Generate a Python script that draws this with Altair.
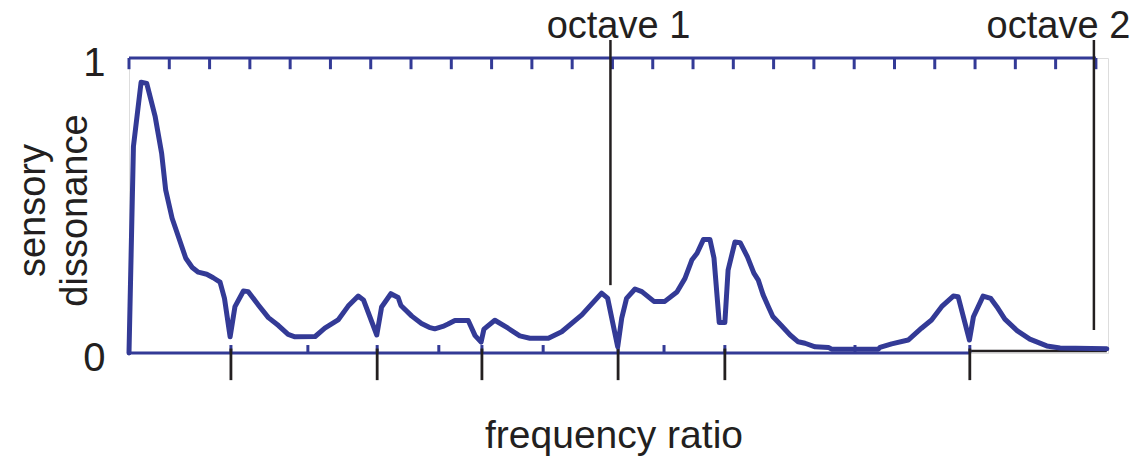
import altair as alt
import pandas as pd

BLUE = "#333A96"
BLACK = "#231F20"
FONT = "Liberation Sans"

# dissonance curve: x in semitones above the fundamental, y = normalised sensory dissonance
curve_x = [0.00, 0.11, 0.30, 0.44, 0.65, 0.81, 0.91, 1.07, 1.24, 1.41, 1.57, 1.72, 1.93, 2.09,
           2.26, 2.37, 2.51, 2.63, 2.84, 2.96, 3.21, 3.46, 3.71, 3.95, 4.12, 4.62, 4.86, 5.19,
           5.44, 5.69, 5.82, 6.15, 6.27, 6.50, 6.68, 6.75, 7.02, 7.26, 7.45, 7.59, 7.79, 7.92,
           8.09, 8.42, 8.59, 8.74, 8.81, 9.08, 9.41, 9.70, 9.95, 10.41, 10.74, 11.24, 11.73,
           11.88, 12.13, 12.23, 12.35, 12.56, 12.73, 13.03, 13.30, 13.60, 13.80, 13.97, 14.10,
           14.26, 14.42, 14.52, 14.65, 14.79, 14.87, 15.04, 15.17, 15.35, 15.51, 15.62, 15.74,
           15.87, 15.98, 16.18, 16.41, 16.61, 16.78, 17.03, 17.36, 17.44, 18.60, 18.64, 18.93,
           19.34, 19.67, 19.92, 20.17, 20.46, 20.58, 20.86, 20.96, 21.20, 21.39, 21.54, 21.74,
           22.05, 22.36, 22.78, 23.11, 24.27]
curve_y = [0.000, 0.700, 0.918, 0.914, 0.801, 0.677, 0.553, 0.457, 0.389, 0.321, 0.290, 0.274,
           0.267, 0.255, 0.240, 0.185, 0.055, 0.157, 0.210, 0.208, 0.163, 0.120, 0.093, 0.063,
           0.055, 0.056, 0.084, 0.112, 0.159, 0.193, 0.180, 0.061, 0.156, 0.201, 0.188, 0.161,
           0.125, 0.100, 0.087, 0.082, 0.090, 0.098, 0.110, 0.110, 0.059, 0.037, 0.081, 0.111,
           0.084, 0.058, 0.050, 0.050, 0.072, 0.129, 0.203, 0.186, 0.021, 0.118, 0.185, 0.217,
           0.208, 0.175, 0.175, 0.207, 0.253, 0.315, 0.338, 0.385, 0.385, 0.322, 0.103, 0.103,
           0.281, 0.376, 0.374, 0.326, 0.271, 0.247, 0.197, 0.157, 0.124, 0.095, 0.061, 0.038,
           0.033, 0.021, 0.019, 0.013, 0.013, 0.019, 0.031, 0.044, 0.084, 0.112, 0.157, 0.193,
           0.191, 0.044, 0.123, 0.193, 0.185, 0.157, 0.115, 0.075, 0.047, 0.024, 0.017, 0.014]

top_ticks = list(range(0, 25))                     # semitone ticks along the top
minor_ticks = [2.53, 4.44, 6.16, 7.69, 8.76, 10.28, 12.14, 13.28, 14.79, 18.02, 20.87]
minima_ticks = [2.53, 6.16, 8.76, 12.14, 14.79, 20.87]   # dissonance minima (black)
octave_pos = [11.95, 23.95]
octave_bottom = [0.23, 0.078]
octave_text = ["octave 1", "octave 2"]
octave_text_x = [12.15, 23.07]

xs = alt.Scale(domain=[0, 24.3], nice=False, zero=False)
ys = alt.Scale(domain=[0, 1], nice=False, zero=False)

curve_df = pd.DataFrame({"x": curve_x, "y": curve_y})

seg_rows = []
seg_rows.append(dict(x=0, x2=24, y=1, y2=1, c="blue", w=3))
seg_rows.append(dict(x=0, x2=20.87, y=0, y2=0, c="blue", w=3))
seg_rows.append(dict(x=20.87, x2=24.27, y=0.007, y2=0.007, c="black", w=2.5))
for t in top_ticks:
    seg_rows.append(dict(x=t, x2=t, y=1, y2=0.962, c="blue", w=3))
for t in minor_ticks:
    seg_rows.append(dict(x=t, x2=t, y=0, y2=0.027, c="blue", w=3))
for t in minima_ticks:
    seg_rows.append(dict(x=t, x2=t, y=0.015, y2=-0.092, c="black", w=2.8))
for p, b in zip(octave_pos, octave_bottom):
    seg_rows.append(dict(x=p, x2=p, y=b, y2=1.061, c="black", w=2.5))
seg_df = pd.DataFrame(seg_rows)

text_df = pd.DataFrame({"x": octave_text_x, "y": [1.068, 1.068], "t": octave_text})

x_axis = alt.Axis(
    title="frequency ratio", labels=False, ticks=False, domain=False, grid=False,
    titleFont=FONT, titleFontSize=39, titleFontWeight="normal", titleColor=BLACK,
    titleX=484.5, titleY=94, titleBaseline="alphabetic", titleAlign="center")
y_axis = alt.Axis(
    values=[0, 1], format="d", domain=False, ticks=False, tickSize=0, grid=False,
    labelFont=FONT, labelFontSize=40, labelColor=BLACK, labelPadding=24, labelOffset=5,
    title=["sensory", "dissonance"], titleFont=FONT, titleFontSize=38,
    titleFontWeight="normal", titleColor=BLACK, titleAngle=270,
    titleX=-85, titleY=152, titleAlign="center", titleBaseline="alphabetic",
    titleLineHeight=42)

curve = alt.Chart(curve_df).mark_line(
    color=BLUE, strokeWidth=5, strokeJoin="round", strokeCap="round"
).encode(
    x=alt.X("x:Q", scale=xs, axis=x_axis),
    y=alt.Y("y:Q", scale=ys, axis=y_axis),
)

segs = alt.Chart(seg_df).mark_rule().encode(
    x=alt.X("x:Q", scale=xs, axis=x_axis),
    x2="x2:Q",
    y=alt.Y("y:Q", scale=ys, axis=y_axis),
    y2="y2:Q",
    color=alt.Color("c:N", scale=alt.Scale(domain=["blue", "black"], range=[BLUE, BLACK]), legend=None),
    strokeWidth=alt.StrokeWidth("w:Q", scale=None, legend=None),
)

labels = alt.Chart(text_df).mark_text(
    font=FONT, fontSize=38, color=BLACK, align="center", baseline="alphabetic"
).encode(
    x=alt.X("x:Q", scale=xs, axis=x_axis),
    y=alt.Y("y:Q", scale=ys, axis=y_axis),
    text="t:N",
)

chart = alt.layer(segs, curve, labels).properties(
    width=979, height=295,
    padding={"left": 129, "top": 58, "right": 29, "bottom": 103},
    autosize=alt.AutoSizeParams(type="none"),
).configure_view(stroke=None).configure(background="white")

chart.save("out.html", embed_options={"renderer": "svg", "actions": False})
